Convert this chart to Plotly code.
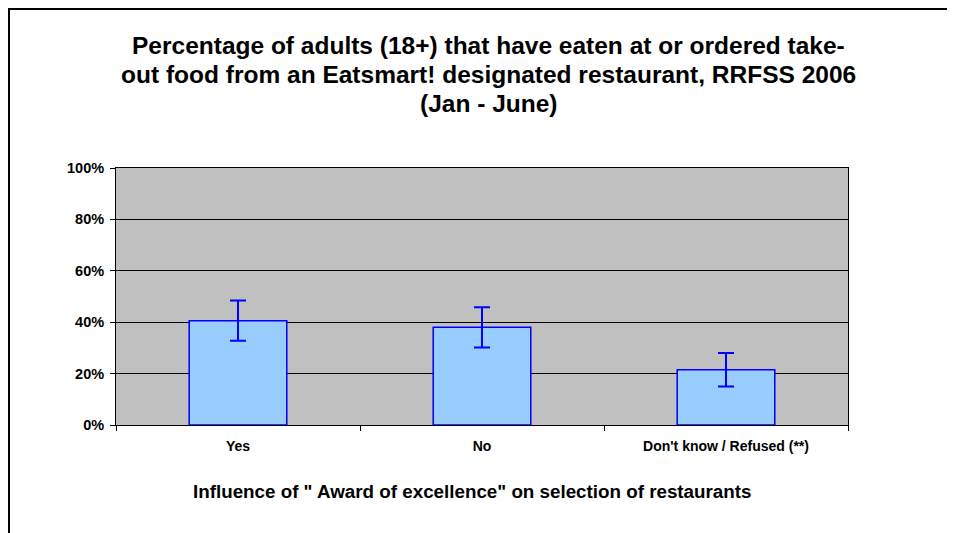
import plotly.graph_objects as go

categories = ["Yes", "No", "Don't know / Refused (**)"]
values = [40.6, 38.0, 21.5]
err_plus = [7.8, 7.8, 6.5]
err_minus = [7.8, 7.8, 6.5]
y_ticks = [0, 20, 40, 60, 80, 100]
y_tick_labels = ["0%", "20%", "40%", "60%", "80%", "100%"]

title_lines = [
    "Percentage of adults (18+) that have eaten at or ordered take-",
    "out food from an Eatsmart! designated restaurant, RRFSS 2006",
    "(Jan - June)",
]
x_title = 'Influence of " Award of excellence" on selection of restaurants'

FONT = "Liberation Sans, Arial, sans-serif"

fig = go.Figure()
fig.add_trace(go.Bar(
    x=categories, y=values,
    marker=dict(color="#99CCFF", line=dict(color="#0000FF", width=1.5)),
    width=0.4,
    error_y=dict(type="data", symmetric=False, array=err_plus, arrayminus=err_minus,
                 color="#0000FF", thickness=2, width=8),
))

# page body has an 8px margin; compensate so the plot lands where the reference has it
OFF = 8
W, H = 955 - OFF, 533 - OFF
L, R, T, B = 116 - OFF, 107, 168 - OFF, 108
pw = W - L - R
ph = H - T - B


def px_x(x_abs):
    return (x_abs - OFF - L) / pw


def px_y(y_abs):
    return 1 + (T - (y_abs - OFF)) / ph


annotations = []
title_centers = [46, 75, 103]  # absolute page y of each title line centre
for line, yc in zip(title_lines, title_centers):
    annotations.append(dict(
        text="<b>" + line + "</b>", xref="paper", yref="paper",
        x=px_x(489), y=px_y(yc),
        xanchor="center", yanchor="middle", showarrow=False,
        font=dict(size=24.5, family=FONT, color="black"),
    ))
annotations.append(dict(
    text="<b>" + x_title + "</b>", xref="paper", yref="paper",
    x=px_x(472), y=px_y(491),
    xanchor="center", yanchor="middle", showarrow=False,
    font=dict(size=18.8, family=FONT, color="black"),
))

fig.update_layout(
    width=W, height=H,
    margin=dict(l=L, r=R, t=T, b=B, pad=0),
    paper_bgcolor="white",
    plot_bgcolor="#C0C0C0",
    showlegend=False,
    font=dict(family=FONT, color="black"),
    annotations=annotations,
    xaxis=dict(
        type="category",
        showgrid=False,
        showline=True, linecolor="black", linewidth=1, mirror=True,
        ticks="outside", tickson="boundaries", ticklen=5, tickcolor="black",
        ticklabelstandoff=8,
        tickfont=dict(size=14, family=FONT, color="black"),
        tickprefix="<b>", ticksuffix="</b>",
    ),
    yaxis=dict(
        range=[0, 100],
        tickvals=y_ticks, ticktext=["<b>" + t + "</b>" for t in y_tick_labels],
        showgrid=True, gridcolor="black", gridwidth=1,
        showline=True, linecolor="black", linewidth=1, mirror=True,
        ticks="outside", ticklen=5, tickcolor="black",
        ticklabelstandoff=3,
        tickfont=dict(size=14.5, family=FONT, color="black"),
        zeroline=False,
    ),
    shapes=[dict(
        type="rect", xref="paper", yref="paper",
        x0=(1 - L) / pw, x1=(W + 20 - L) / pw,
        y0=-(B + 20) / ph, y1=1 + (T - 1) / ph,
        line=dict(color="black", width=2), fillcolor="rgba(0,0,0,0)", layer="below",
    )],
)

fig.write_html("out.html")
